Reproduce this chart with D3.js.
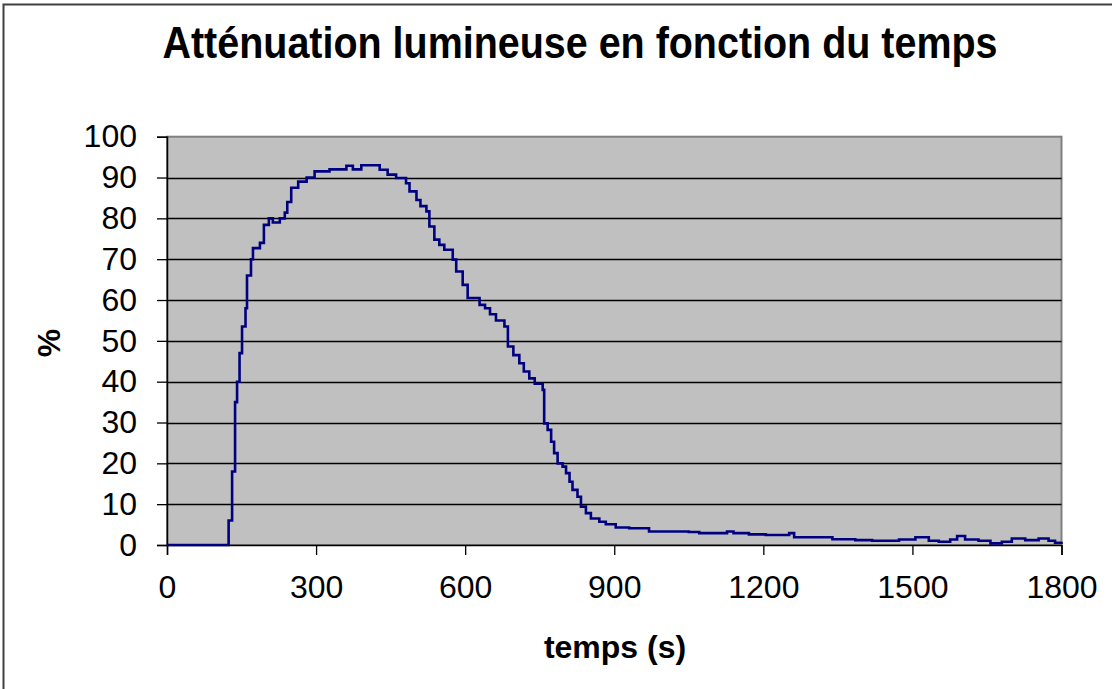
<!DOCTYPE html>
<html>
<head>
<meta charset="utf-8">
<script src="https://cdn.jsdelivr.net/npm/d3@7"></script>
<style>
  body { margin: 0; background: #fff; }
  text { font-family: "Liberation Sans", Arial, sans-serif; fill: #000; }
</style>
</head>
<body>
<div id="chart"></div>
<script>
// temps (s) and atténuation (%)
const temps = [0, 124, 131, 137, 141, 146, 151, 158, 161, 169, 173, 187, 195, 205, 213, 227, 237, 242, 250, 264,
  281, 297, 327, 361, 374, 391, 428, 444, 461, 481, 488, 502, 510, 522, 528, 538, 548, 558, 575, 582, 595, 605,
  629, 640, 650, 662, 679, 686, 697, 709, 718, 729, 740, 756, 759, 766, 773, 779, 786, 796, 803, 810, 816, 826, 833, 843, 853,
  870, 883, 903, 930, 970, 1050, 1071, 1127, 1140, 1171, 1205, 1252, 1262, 1339, 1385, 1419, 1473, 1506, 1533, 1553,
  1576, 1590, 1606, 1633, 1657, 1680, 1700, 1727, 1754, 1774, 1787, 1800];
const attenuation = [0, 6, 18, 35, 40, 47, 53.5, 58, 66, 70, 72.7, 74, 78.4, 80, 79, 80, 81.4, 84, 87.5, 89,
  90, 91.5, 92, 92.9, 92, 93, 91.9, 90.7, 89.9, 88.6, 86.6, 84.5, 83, 81.7, 78, 74.8, 73.5, 72.3, 69.9, 67, 63.7, 60.5,
  58.8, 58, 56.5, 55, 53.5, 48.6, 46.5, 44.5, 42.5, 40.8, 39.5, 38, 29.8, 28.2, 25.3, 22.5, 20, 19.2, 17.6, 15.5, 13.5, 11.8, 9.4, 7.8, 6.5,
  5.7, 5.1, 4.3, 4.1, 3.3, 3.2, 2.9, 3.3, 2.9, 2.6, 2.45, 2.9, 1.9, 1.4, 1.2, 1.05, 1.35, 1.9, 1.05, 0.8,
  1.35, 2.2, 1.35, 1.05, 0.4, 0.8, 1.6, 1.2, 1.6, 1.05, 0.55, 0.8];
const xTicks = [0, 300, 600, 900, 1200, 1500, 1800];
const yTicks = [0, 10, 20, 30, 40, 50, 60, 70, 80, 90, 100];
const title = "Atténuation lumineuse en fonction du temps";
const xTitle = "temps (s)";
const yTitle = "%";

let w = 1112;
let h = 689;
let pLeft = 167, pRight = 1061.5, pTop = 136.7, pBottom = 545;

const data = temps.map((t, i) => [t, attenuation[i]]);

const xScale = d3.scaleLinear().domain([0, 1800]).range([pLeft, pRight]);
const yScale = d3.scaleLinear().domain([0, 100]).range([pBottom, pTop]);

const svg = d3.select("#chart").append("svg")
  .attr("width", w)
  .attr("height", h);

// outer frame
svg.append("rect")
  .attr("x", 3.5).attr("y", 4.5)
  .attr("width", w + 20).attr("height", h + 20)
  .attr("fill", "#fff")
  .attr("stroke", "#404040")
  .attr("stroke-width", 2);

// plot area
svg.append("rect")
  .attr("x", pLeft).attr("y", pTop)
  .attr("width", pRight - pLeft).attr("height", pBottom - pTop)
  .attr("fill", "#c0c0c0")
  .attr("stroke", "#808080")
  .attr("stroke-width", 2);

// grid
svg.append("g").selectAll("line")
  .data(yTicks.filter(d => d > 0 && d < 100))
  .enter().append("line")
  .attr("x1", pLeft).attr("x2", pRight)
  .attr("y1", d => Math.round(yScale(d)) + 0.5)
  .attr("y2", d => Math.round(yScale(d)) + 0.5)
  .attr("stroke", "#000")
  .attr("stroke-width", 1.3);

const xAxis = d3.axisBottom(xScale).tickValues(xTicks).tickFormat(d3.format("d")).tickSize(10).tickPadding(20);
const yAxis = d3.axisLeft(yScale).tickValues(yTicks).tickFormat(d3.format("d")).tickSize(10).tickPadding(20);

const gx = svg.append("g")
  .attr("transform", "translate(0," + pBottom + ")")
  .call(xAxis);
const gy = svg.append("g")
  .attr("transform", "translate(" + pLeft + ",0)")
  .call(yAxis);

[gx, gy].forEach(g => {
  g.select(".domain").attr("stroke", "#000").attr("stroke-width", 1.5);
  g.selectAll(".tick line").attr("stroke", "#000").attr("stroke-width", 1.3);
  g.selectAll(".tick text")
    .attr("font-family", "Liberation Sans, Arial, sans-serif")
    .attr("font-size", 32)
    .attr("fill", "#000");
});
gx.selectAll(".tick text").attr("dy", "0.71em");

// line
const line = d3.line()
  .x(d => xScale(d[0]))
  .y(d => yScale(d[1]))
  .curve(d3.curveStepAfter);

svg.append("path")
  .datum(data)
  .attr("fill", "none")
  .attr("stroke", "#000080")
  .attr("stroke-width", 2.6)
  .attr("d", line);

// titles
svg.append("text")
  .attr("x", 580).attr("y", 58)
  .attr("text-anchor", "middle")
  .attr("font-size", 44)
  .attr("font-weight", "bold")
  .attr("textLength", 835)
  .attr("lengthAdjust", "spacingAndGlyphs")
  .text(title);

svg.append("text")
  .attr("x", 615).attr("y", 658)
  .attr("text-anchor", "middle")
  .attr("font-size", 32)
  .attr("font-weight", "bold")
  .text(xTitle);

svg.append("text")
  .attr("transform", "translate(60,343) rotate(-90)")
  .attr("text-anchor", "middle")
  .attr("font-size", 32)
  .attr("font-weight", "bold")
  .text(yTitle);
</script>
</body>
</html>
